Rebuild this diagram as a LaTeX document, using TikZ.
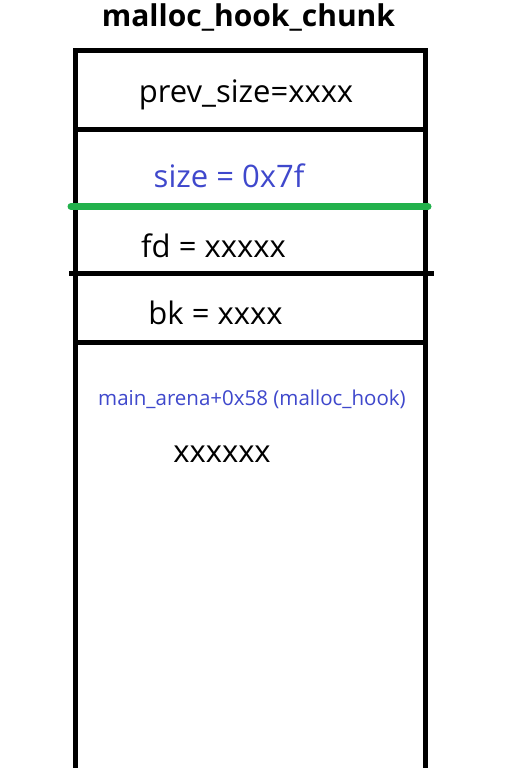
\documentclass[tikz,border=0pt]{standalone}
\usepackage{fontspec}
\setmainfont{Open Sans}
\definecolor{hookblue}{HTML}{3F48CC}
\definecolor{hookgreen}{HTML}{22B14C}
\tikzset{wall/.style={line width=5pt},
  field/.style={inner sep=0pt, font=\fontsize{31}{36}\selectfont},
  note/.style={inner sep=0pt, text=hookblue}}

\begin{document}
\begin{tikzpicture}[x=1pt, y=-1pt]
    \useasboundingbox[fill=white] (0,0) rectangle (523,768);
    % chunk outline
    \coordinate (tl) at (75.5,50.5);
    \coordinate (tr) at (425.5,50.5);
    \coordinate (bl) at (75.5,770);
    \coordinate (br) at (425.5,770);
    \draw[wall, line join=miter] (bl) -- (tl) -- (tr) -- (br);
    \draw[wall] (73,129.5) -- (428,129.5);
    \draw[line width=7pt, hookgreen, line cap=round] (71,206.5) -- (428,206.5);
    \draw[wall] (69,273.5) -- (434,273.5);
    \draw[wall] (73,342.5) -- (428,342.5);
    % labels
    \node[field, font=\fontsize{30}{34}\selectfont\bfseries] (title) at (248.5,17) {malloc\_hook\_chunk};
    \node[field] (prev) at (246,95) {prev\_size=xxxx};
    \node[field, text=hookblue] (size) at (229,176) {size = 0x7f};
    \node[field] (fd) at (213.5,246) {fd = xxxxx};
    \node[field] (bk) at (215.5,313) {bk = xxxx};
    \node[note, font=\fontsize{20.5}{24}\selectfont] (hook) at (252,399) {main\_arena+0x58 (malloc\_hook)};
    \node[field] (val) at (222,454) {xxxxxx};
\end{tikzpicture}
\end{document}
